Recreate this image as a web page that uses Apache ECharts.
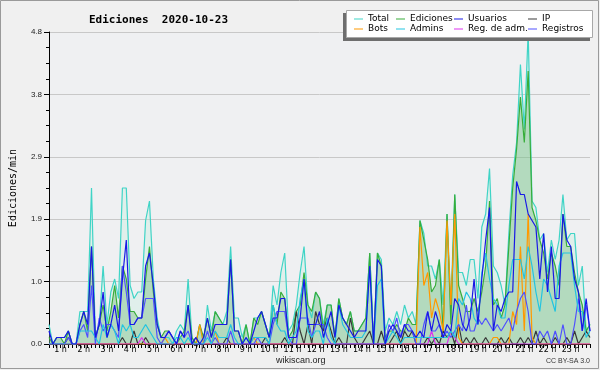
<!DOCTYPE html>
<html><head><meta charset="utf-8">
<script src="https://cdn.jsdelivr.net/npm/echarts@6/dist/echarts.min.js"></script>
<style>html,body{margin:0;padding:0;background:#f0f0f0}#c{width:600px;height:370px}</style>
</head><body><div id="c"></div>
<script>
// 10-minute samples starting at 00:30
const startMinutes = 30, stepMinutes = 10;

const total = [
0.3,0.0,0.1,0.1,0.1,0.2,0.0,0.0,0.5,0.5,
0.5,2.4,0.1,0.3,1.2,0.3,0.8,1.0,0.7,2.4,
2.4,0.9,0.7,0.8,0.8,1.9,2.2,1.0,0.4,0.1,
0.1,0.1,0.0,0.2,0.3,0.2,1.0,0.1,0.0,0.3,
0.0,0.6,0.2,0.5,0.4,0.3,0.5,1.5,0.4,0.4,
0.1,0.3,0.0,0.4,0.4,0.5,0.3,0.1,0.9,0.6,
1.1,1.4,0.2,0.3,0.6,1.1,1.5,0.6,0.4,0.8,
0.7,0.3,0.6,0.6,0.1,0.7,0.4,0.3,0.5,0.2,
0.2,0.3,0.4,1.4,0.0,1.4,1.3,0.2,0.4,0.3,
0.5,0.3,0.6,0.4,0.5,0.3,1.9,1.7,1.2,1.2,
1.0,1.3,0.6,2.0,0.6,2.3,1.1,1.1,0.9,1.3,
1.3,0.7,1.8,2.0,2.7,1.2,1.1,0.9,0.6,1.7,
2.6,3.1,4.3,3.3,4.8,2.2,2.1,1.6,1.7,1.1,
1.6,1.3,1.6,2.3,1.6,1.7,1.7,0.9,1.2,0.2,
0.3];

const ediciones = [
0.1,0.0,0.1,0.1,0.0,0.2,0.0,0.0,0.3,0.5,
0.2,1.5,0.1,0.3,0.6,0.2,0.5,0.9,0.4,1.2,
1.0,0.5,0.5,0.4,0.4,1.0,1.5,0.8,0.3,0.1,
0.2,0.2,0.1,0.0,0.1,0.2,0.6,0.1,0.0,0.3,
0.1,0.4,0.1,0.5,0.4,0.3,0.3,1.3,0.2,0.2,
0.0,0.3,0.0,0.4,0.3,0.5,0.3,0.1,0.6,0.3,
0.8,0.7,0.1,0.2,0.5,0.6,1.1,0.6,0.5,0.8,
0.7,0.2,0.6,0.6,0.1,0.7,0.4,0.3,0.5,0.2,
0.2,0.3,0.4,1.4,0.0,1.4,1.2,0.1,0.2,0.2,
0.3,0.2,0.2,0.4,0.3,0.3,1.9,1.6,1.3,0.8,
0.9,1.3,0.2,2.0,0.3,2.3,0.9,0.7,0.5,0.5,
0.7,0.5,0.8,1.2,2.2,0.6,0.7,0.4,0.6,1.5,
2.4,3.0,3.8,3.1,4.2,2.1,1.9,1.6,1.4,1.0,
1.4,1.2,0.9,2.0,1.5,1.5,1.1,0.8,0.6,0.2,
0.3];

const usuarios = [
0.2,0.0,0.1,0.1,0.1,0.2,0.0,0.0,0.3,0.5,
0.3,1.5,0.1,0.3,0.8,0.1,0.3,0.6,0.2,1.0,
1.6,0.3,0.3,0.4,0.4,1.2,1.4,0.9,0.3,0.1,
0.1,0.2,0.1,0.0,0.2,0.1,0.6,0.0,0.1,0.0,
0.1,0.4,0.1,0.3,0.3,0.3,0.3,1.3,0.2,0.2,
0.0,0.1,0.0,0.2,0.4,0.5,0.3,0.1,0.4,0.4,
0.7,0.7,0.1,0.1,0.1,0.4,1.0,0.3,0.3,0.3,
0.5,0.1,0.3,0.5,0.1,0.6,0.4,0.3,0.2,0.1,
0.2,0.2,0.2,1.2,0.0,1.3,1.2,0.0,0.2,0.3,
0.2,0.1,0.3,0.2,0.2,0.1,0.2,0.1,0.5,0.2,
0.5,0.3,0.1,0.3,0.2,0.7,0.6,0.3,0.2,0.4,
1.0,0.3,1.0,1.6,2.1,0.2,0.6,0.5,0.7,0.8,
0.8,2.5,2.3,2.3,2.0,1.9,1.8,1.0,1.7,0.8,
1.5,0.7,0.7,2.0,1.6,1.5,1.0,0.8,0.2,0.7,
0.2];

const ip = [
0,0,0,0,0,0.1,0,0,0,0,
0,0,0,0,0,0,0,0,0,0.1,
0,0,0.2,0,0,0.1,0,0,0,0,
0,0,0,0,0,0,0,0,0.1,0,
0,0,0,0,0,0,0.1,0,0,0,
0,0,0,0,0,0,0.1,0,0,0,
0,0.1,0,0,0.5,0.2,0,0.3,0,0.5,
0.3,0.2,0.4,0.2,0,0.1,0,0,0.4,0.1,
0,0,0.1,0.2,0,0,0.2,0,0,0.1,
0.2,0,0.2,0.1,0.2,0,0,0,0.1,0,
0.1,0,0.2,0.1,0.2,0,0.3,0,0.1,0,
0.1,0,0,0.1,0,0,0,0.1,0,0.1,
0,0,0.1,0,0.1,0,0.2,0,0.1,0,
0,0.1,0,0,0.1,0,0.2,0,0.1,0.2,
0.1];

const bots = [
0,0,0,0,0,0,0,0,0,0,
0,0,0,0,0,0,0,0,0,0,
0,0,0,0,0,0,0,0,0,0,
0.1,0,0,0,0,0,0,0,0,0.3,
0,0,0,0.2,0,0,0,0,0,0,
0,0,0,0.1,0,0,0,0,0,0,
0,0,0,0,0,0,0,0,0,0,
0,0,0,0,0,0,0,0,0,0,
0,0,0,0,0,0,0,0,0,0,
0,0,0,0,0,0,1.8,0.9,1.1,0.4,
0.7,0.5,0.2,1.9,0.6,2.0,0.1,0,0,0,
0,0,0,0,0,0.1,0.1,0,0,0,
0.5,0.3,1.5,0.2,2.0,0.1,0,0,0,0,
0,0,0,0,0,0,0,0,0,0,
0];

const admins = [
0,0,0,0,0,0,0,0,0.2,0.2,
0.2,0.2,0.1,0.0,0.3,0.1,0.3,0.2,0.0,0.3,
0.2,0.3,0.1,0.1,0.2,0.3,0.2,0.1,0.0,0.0,
0,0,0,0.1,0.1,0,0.1,0,0,0,
0,0.1,0,0.2,0.1,0.1,0.1,0.3,0.1,0,
0,0.1,0,0.1,0.1,0.1,0.1,0,0.6,0.3,
0.2,0.2,0,0.1,0.2,0.7,1.0,0.2,0.1,0.2,
0.2,0,0.4,0.1,0,0.6,0.3,0.2,0.1,0.1,
0.1,0.1,0.2,1.2,0,0.9,1.0,0,0.1,0.2,
0.1,0,0.1,0.1,0.1,0.1,0.1,0.1,0.1,0.1,
0.1,0.1,0.1,0.1,0.2,0.1,0.7,0.6,0.8,0.7,
0.4,0.3,1.1,1.4,1.0,0.7,0.6,0.4,0.4,0.9,
1.3,1.3,1.3,1.0,1.5,1.2,0.8,0.5,1.0,0.9,
0.7,0.5,1.2,1.4,1.4,1.4,0.9,0.5,0.5,0.1,
0.2];

const regAdm = [
0,0,0,0,0,0,0,0,0,0,
0,0,0,0,0,0,0,0,0,0,
0,0,0,0,0.1,0,0,0,0,0,
0,0,0,0,0,0,0,0,0,0,
0,0,0,0,0,0,0,0,0,0,
0,0,0,0,0,0,0,0,0,0,
0,0,0,0,0,0,0,0,0,0,
0,0,0,0,0,0,0,0,0,0,
0,0,0,0,0,0,0,0,0,0,
0,0,0,0,0,0,0,0,0,0.2,
0,0,0,0,0.2,0.1,0,0,0,0,
0,0,0,0,0,0,0,0,0,0,
0,0,0,0,0,0,0,0,0,0,
0,0,0,0,0,0,0,0,0,0,
0];

const registros = [
0,0,0,0,0,0.1,0,0,0.2,0.3,
0.1,0.9,0,0.4,0.2,0.3,0.3,0.2,0.1,1.2,
0.8,0.3,0.3,0.4,0.4,0.7,0.7,0.7,0.1,0,
0.1,0.2,0.1,0,0.2,0.1,0.2,0,0,0,
0,0.2,0,0.1,0,0,0,0.2,0,0,
0,0,0,0,0.1,0,0,0,0.3,0.5,
0.5,0.5,0.1,0,0,0.4,0.4,0.4,0.1,0.3,
0.3,0.3,0.1,0,0,0,0,0,0,0,
0,0,0,0,0,0,0,0,0.3,0.2,
0.4,0.1,0.3,0.3,0.2,0,0,0.3,0.5,0.2,
0.2,0.3,0.1,0.2,0.1,0.2,0.3,0.2,0.6,0.2,
0.2,0.4,0.3,0.4,0.3,0.2,0.3,0.2,0.3,0.4,
0.2,0.5,0.7,0.8,0.5,0,0,0.2,0.1,0.2,
0,0.2,0,0.3,0,0,0.3,0.7,0.2,0.6,
0.2];

const yTicks = [0, 0.96, 1.92, 2.88, 3.84, 4.8];

const times = total.map((_, i) => {
  const m = startMinutes + i * stepMinutes;
  return Math.floor(m / 60) + ':' + String(m % 60).padStart(2, '0');
});

const chart = echarts.init(document.getElementById('c'));

function line(name, data, color, extra) {
  return Object.assign({
    name, type: 'line', data, showSymbol: false, symbol: 'none',
    lineStyle: { color, width: 1.2 }, itemStyle: { color },
    emphasis: { disabled: true }
  }, extra || {});
}

const legendText = { fontFamily: 'DejaVu Sans', fontSize: 9, color: '#000', lineHeight: 10 };
function legendCol(data, left) {
  return { data, left, top: 14, orient: 'vertical', itemGap: 0, itemWidth: 9, itemHeight: 1,
    icon: 'rect', padding: 0, selectedMode: false, textStyle: legendText, zlevel: 1 };
}

chart.setOption({
  animation: false,
  backgroundColor: '#f0f0f0',
  title: { text: 'Ediciones  2020-10-23', left: 84, top: 10,
    textStyle: { fontFamily: 'DejaVu Sans Mono', fontWeight: 'bold', fontSize: 11, color: '#000' } },
  grid: { left: 46, right: 10, top: 32, bottom: 26, show: true, backgroundColor: '#eff0f2', borderWidth: 0 },
  xAxis: {
    type: 'category', data: times, boundaryGap: false,
    axisLine: { lineStyle: { color: '#000', width: 1 } },
    axisTick: { interval: 0, length: 4, lineStyle: { color: '#000' } },
    axisLabel: { interval: (i, v) => v.endsWith(':00'), formatter: v => parseInt(v, 10) + ' h',
      fontFamily: 'DejaVu Sans', fontSize: 8, color: '#000', margin: 2 },
    splitLine: { show: false }
  },
  yAxis: {
    type: 'value', min: yTicks[0], max: yTicks[yTicks.length - 1], interval: yTicks[1],
    name: 'Ediciones/min', nameLocation: 'middle', nameGap: 31,
    nameTextStyle: { fontFamily: 'DejaVu Sans Mono', fontSize: 10, color: '#000' },
    axisLine: { show: true, lineStyle: { color: '#000' } },
    axisTick: { show: true, length: 5, lineStyle: { color: '#000' } },
    minorTick: { show: true, splitNumber: 4, length: 3, lineStyle: { color: '#000' } },
    axisLabel: { formatter: v => v.toFixed(1), fontFamily: 'Liberation Sans', fontSize: 8, color: '#222', margin: 7 },
    splitLine: { lineStyle: { color: '#c8c8c8' } }
  },
  legend: [
    legendCol(['Total', 'Bots'], 354),
    legendCol(['Ediciones', 'Admins'], 396),
    legendCol(['Usuarios', 'Reg. de adm.'], 454),
    legendCol(['IP', 'Registros'], 528)
  ],
  series: [
    line('Total', total, '#3fd4c6', { areaStyle: { color: 'rgba(185,238,218,0.4)' } }),
    line('Ediciones', ediciones, '#38ad3a', { areaStyle: { color: 'rgba(70,170,80,0.42)' } }),
    line('IP', ip, '#383838'),
    line('Bots', bots, '#ff9900'),
    line('Reg. de adm.', regAdm, '#dd33ee'),
    line('Registros', registros, '#5050ff'),
    line('Admins', admins, '#22c4e0'),
    line('Usuarios', usuarios, '#1818e6')
  ],
  graphic: [
    { type: 'rect', z: 100, silent: true, shape: { x: 0.5, y: 0.5, width: 598, height: 368 },
      style: { fill: 'none', stroke: '#9a9a9a', lineWidth: 1 } },
    { type: 'rect', z: 100, silent: true, shape: { x: 343, y: 13, width: 247, height: 28 },
      style: { fill: '#6e6e6e' } },
    { type: 'rect', z: 101, silent: true, shape: { x: 346.5, y: 10.5, width: 246, height: 27 },
      style: { fill: '#ffffff', stroke: '#a8a8a8', lineWidth: 1 } },
    { type: 'text', z: 100, left: 276, top: 356,
      style: { text: 'wikiscan.org', font: '9px "Liberation Sans"', fill: '#222' } },
    { type: 'text', z: 100, right: 10, top: 358,
      style: { text: 'CC BY-SA 3.0', font: '7px "Liberation Sans"', fill: '#333' } }
  ]
});
</script></body></html>
